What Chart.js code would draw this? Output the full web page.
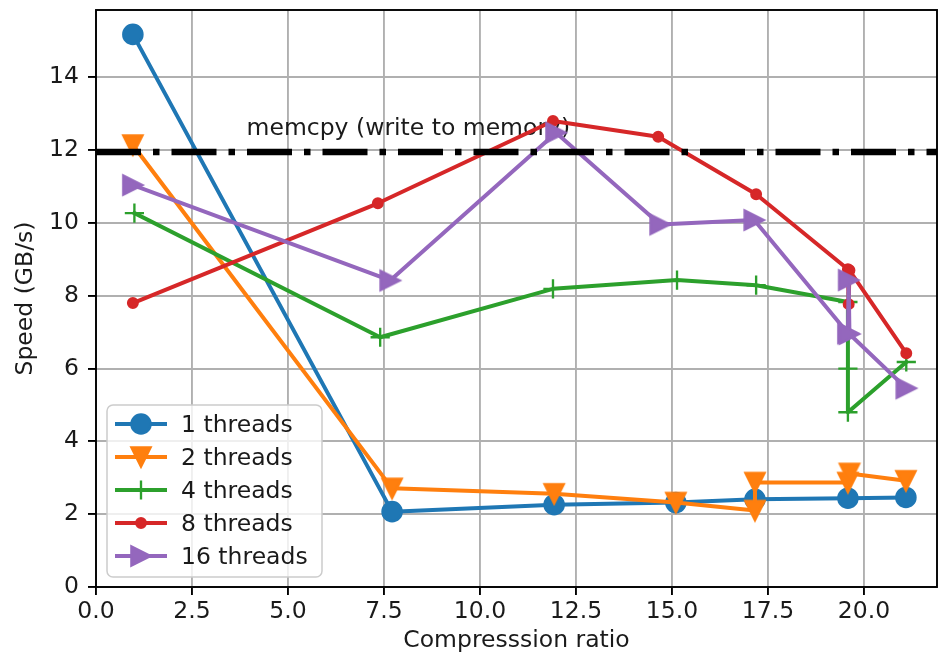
<!DOCTYPE html>
<html><head><meta charset="utf-8">
<script src="https://cdn.jsdelivr.net/npm/chart.js@4.4.1/dist/chart.umd.min.js"></script>
<style>html,body{margin:0;padding:0;background:#fff}#wrap{width:939px;height:652px}</style>
</head><body><div id="wrap"><canvas id="c" width="939" height="652"></canvas></div>
<script>
// ---- data ----
const seriesNames = ['1 threads', '2 threads', '4 threads', '8 threads', '16 threads'];
const x1  = [0.96, 7.71, 11.93, 15.10, 17.16, 19.58, 21.09];
const y1  = [15.18, 2.07, 2.26, 2.32, 2.41, 2.44, 2.46];
const x2  = [0.96, 7.71, 11.93, 15.10, 17.16, 17.16, 19.58, 19.62, 21.09];
const y2  = [12.14, 2.71, 2.56, 2.32, 2.10, 2.87, 2.87, 3.12, 2.92];
const x4  = [1.00, 7.40, 11.90, 15.13, 17.19, 19.58, 19.58, 19.58, 21.10];
const y4  = [10.27, 6.86, 8.19, 8.43, 8.29, 7.83, 6.00, 4.80, 6.18];
const x8  = [0.96, 7.34, 11.90, 14.64, 17.19, 19.58, 19.60, 19.62, 21.10];
const y8  = [7.80, 10.54, 12.80, 12.37, 10.79, 8.73, 7.77, 8.70, 6.42];
const x16 = [0.96, 7.66, 11.98, 14.69, 17.14, 19.58, 19.60, 19.62, 21.10];
const y16 = [11.04, 8.42, 12.48, 9.96, 10.08, 6.97, 8.43, 6.95, 5.46];
const memcpySpeed = 11.95;
const memcpyLabel = 'memcpy (write to memory)';
const xTicks = [0, 2.5, 5, 7.5, 10, 12.5, 15, 17.5, 20];
const xTickLabels = ['0.0', '2.5', '5.0', '7.5', '10.0', '12.5', '15.0', '17.5', '20.0'];
const yTicks = [0, 2, 4, 6, 8, 10, 12, 14];
const yTickLabels = ['0', '2', '4', '6', '8', '10', '12', '14'];
const xMin = 0, xMax = 21.9, yMin = 0, yMax = 15.85;

// ---- styles ----
const FONT = '"DejaVu Sans", "Liberation Sans", sans-serif';
const FS = 23.5;
const TXT = '#1a1a1a';
const LW = 4;
const colors = ['#1f77b4', '#ff7f0e', '#2ca02c', '#d62728', '#9467bd'];

function triCanvas(color, dir) {
  const s = 9.6, lw = 2.35, size = 32, m = size / 2;
  const c = document.createElement('canvas'); c.width = size; c.height = size;
  const g = c.getContext('2d');
  g.beginPath();
  if (dir === 'down') { g.moveTo(m, m + s); g.lineTo(m - s, m - s); g.lineTo(m + s, m - s); }
  else { g.moveTo(m + s, m); g.lineTo(m - s, m - s); g.lineTo(m - s, m + s); }
  g.closePath();
  g.fillStyle = color; g.fill();
  g.lineWidth = lw; g.strokeStyle = color; g.lineJoin = 'miter'; g.stroke();
  return c;
}
const markerStyles = [
  { pointStyle: 'circle', pointRadius: 9.6, pointBorderWidth: 2.35 },
  { pointStyle: triCanvas(colors[1], 'down'), pointRadius: 10, pointBorderWidth: 0 },
  { pointStyle: 'cross', pointRadius: 9.6, pointBorderWidth: 2.35 },
  { pointStyle: 'circle', pointRadius: 4.8, pointBorderWidth: 2.35 },
  { pointStyle: triCanvas(colors[4], 'right'), pointRadius: 10, pointBorderWidth: 0 }
];

const xs = [x1, x2, x4, x8, x16];
const ys = [y1, y2, y4, y8, y16];
const datasets = seriesNames.map((name, i) => Object.assign({
  label: name,
  data: xs[i].map((x, j) => ({ x: x, y: ys[i][j] })),
  showLine: true,
  borderColor: colors[i],
  backgroundColor: colors[i],
  pointBackgroundColor: colors[i],
  pointBorderColor: colors[i],
  borderWidth: LW,
  borderJoinStyle: 'round',
  borderCapStyle: 'square',
  tension: 0,
  order: 5 - i
}, markerStyles[i]));
datasets.push({
  label: 'memcpy',
  data: [{ x: xMin, y: memcpySpeed }, { x: xMax, y: memcpySpeed }],
  showLine: true,
  borderColor: '#000',
  borderWidth: 6.5,
  borderDash: [45, 12, 6.5, 12],
  borderCapStyle: 'butt',
  pointRadius: 0,
  order: 0
});

Chart.defaults.font.family = FONT;
Chart.defaults.font.size = FS;
Chart.defaults.color = TXT;

const annotationPlugin = {
  id: 'annot',
  beforeDatasetsDraw(chart) {
    const { ctx, scales } = chart;
    ctx.save();
    ctx.font = FS + 'px ' + FONT;
    ctx.fillStyle = TXT;
    ctx.textBaseline = 'alphabetic';
    ctx.textAlign = 'left';
    ctx.fillText(memcpyLabel, scales.x.getPixelForValue(3.92), scales.y.getPixelForValue(12.42));
    ctx.restore();
  },
  afterDatasetsDraw(chart) {
    const { ctx, chartArea: a } = chart;
    ctx.save();
    ctx.strokeStyle = '#000';
    ctx.lineWidth = 1.9;
    ctx.strokeRect(a.left, a.top, a.right - a.left, a.bottom - a.top);
    ctx.restore();
  },
  afterDraw(chart) {
    const ctx = chart.ctx;
    const bx = 107, by = 405, bw = 215, bh = 172, r = 6;
    const rows = [424, 457, 490, 523, 556];
    ctx.save();
    ctx.beginPath();
    ctx.moveTo(bx + r, by);
    ctx.arcTo(bx + bw, by, bx + bw, by + bh, r);
    ctx.arcTo(bx + bw, by + bh, bx, by + bh, r);
    ctx.arcTo(bx, by + bh, bx, by, r);
    ctx.arcTo(bx, by, bx + bw, by, r);
    ctx.closePath();
    ctx.fillStyle = 'rgba(255,255,255,0.8)';
    ctx.fill();
    ctx.strokeStyle = '#cccccc';
    ctx.lineWidth = 1.5;
    ctx.stroke();
    seriesNames.forEach((name, i) => {
      const y = rows[i];
      ctx.beginPath();
      ctx.moveTo(115, y); ctx.lineTo(167, y);
      ctx.strokeStyle = colors[i]; ctx.lineWidth = LW; ctx.lineCap = 'butt';
      ctx.stroke();
      const ms = markerStyles[i];
      ctx.fillStyle = colors[i]; ctx.strokeStyle = colors[i]; ctx.lineWidth = ms.pointBorderWidth;
      Chart.helpers.drawPoint(ctx, { pointStyle: ms.pointStyle, radius: ms.pointRadius, rotation: 0, borderWidth: ms.pointBorderWidth }, 141, y);
      ctx.font = FS + 'px ' + FONT;
      ctx.fillStyle = TXT;
      ctx.textBaseline = 'middle';
      ctx.textAlign = 'left';
      ctx.fillText(name, 181, y + 1.5);
    });
    ctx.restore();
  }
};

new Chart(document.getElementById('c'), {
  type: 'scatter',
  data: { datasets: datasets },
  plugins: [annotationPlugin],
  options: {
    responsive: false,
    animation: false,
    devicePixelRatio: 1,
    events: [],
    layout: { padding: { left: 0, top: 10, right: 2, bottom: 0 }, autoPadding: false },
    plugins: { legend: { display: false }, tooltip: { enabled: false } },
    scales: {
      x: {
        type: 'linear', min: xMin, max: xMax,
        afterBuildTicks: s => { s.ticks = xTicks.map(v => ({ value: v })); },
        afterFit: s => { s.height = 65; s.paddingLeft = 0; s.paddingRight = 0; },
        ticks: {
          callback: v => xTickLabels[xTicks.indexOf(v)],
          padding: 3, color: TXT, maxRotation: 0, autoSkip: false, font: { size: FS }
        },
        grid: { color: '#b0b0b0', lineWidth: 1.9, tickColor: '#000', tickLength: 8, tickWidth: 1.9 },
        border: { display: false },
        title: { display: true, text: 'Compresssion ratio', color: TXT, font: { size: FS, lineHeight: 0.94 }, padding: { top: 0, bottom: 0 } }
      },
      y: {
        type: 'linear', min: yMin, max: yMax,
        afterBuildTicks: s => { s.ticks = yTicks.map(v => ({ value: v })); },
        afterFit: s => { s.width = 96; s.paddingTop = 0; s.paddingBottom = 0; },
        ticks: {
          callback: v => yTickLabels[yTicks.indexOf(v)],
          padding: 9, color: TXT, autoSkip: false, font: { size: FS }
        },
        grid: { color: '#b0b0b0', lineWidth: 1.9, tickColor: '#000', tickLength: 8, tickWidth: 1.9 },
        border: { display: false },
        title: { display: true, text: 'Speed (GB/s)', color: TXT, font: { size: FS }, padding: { top: 12, bottom: 0 } }
      }
    }
  }
});
</script>
</body></html>
